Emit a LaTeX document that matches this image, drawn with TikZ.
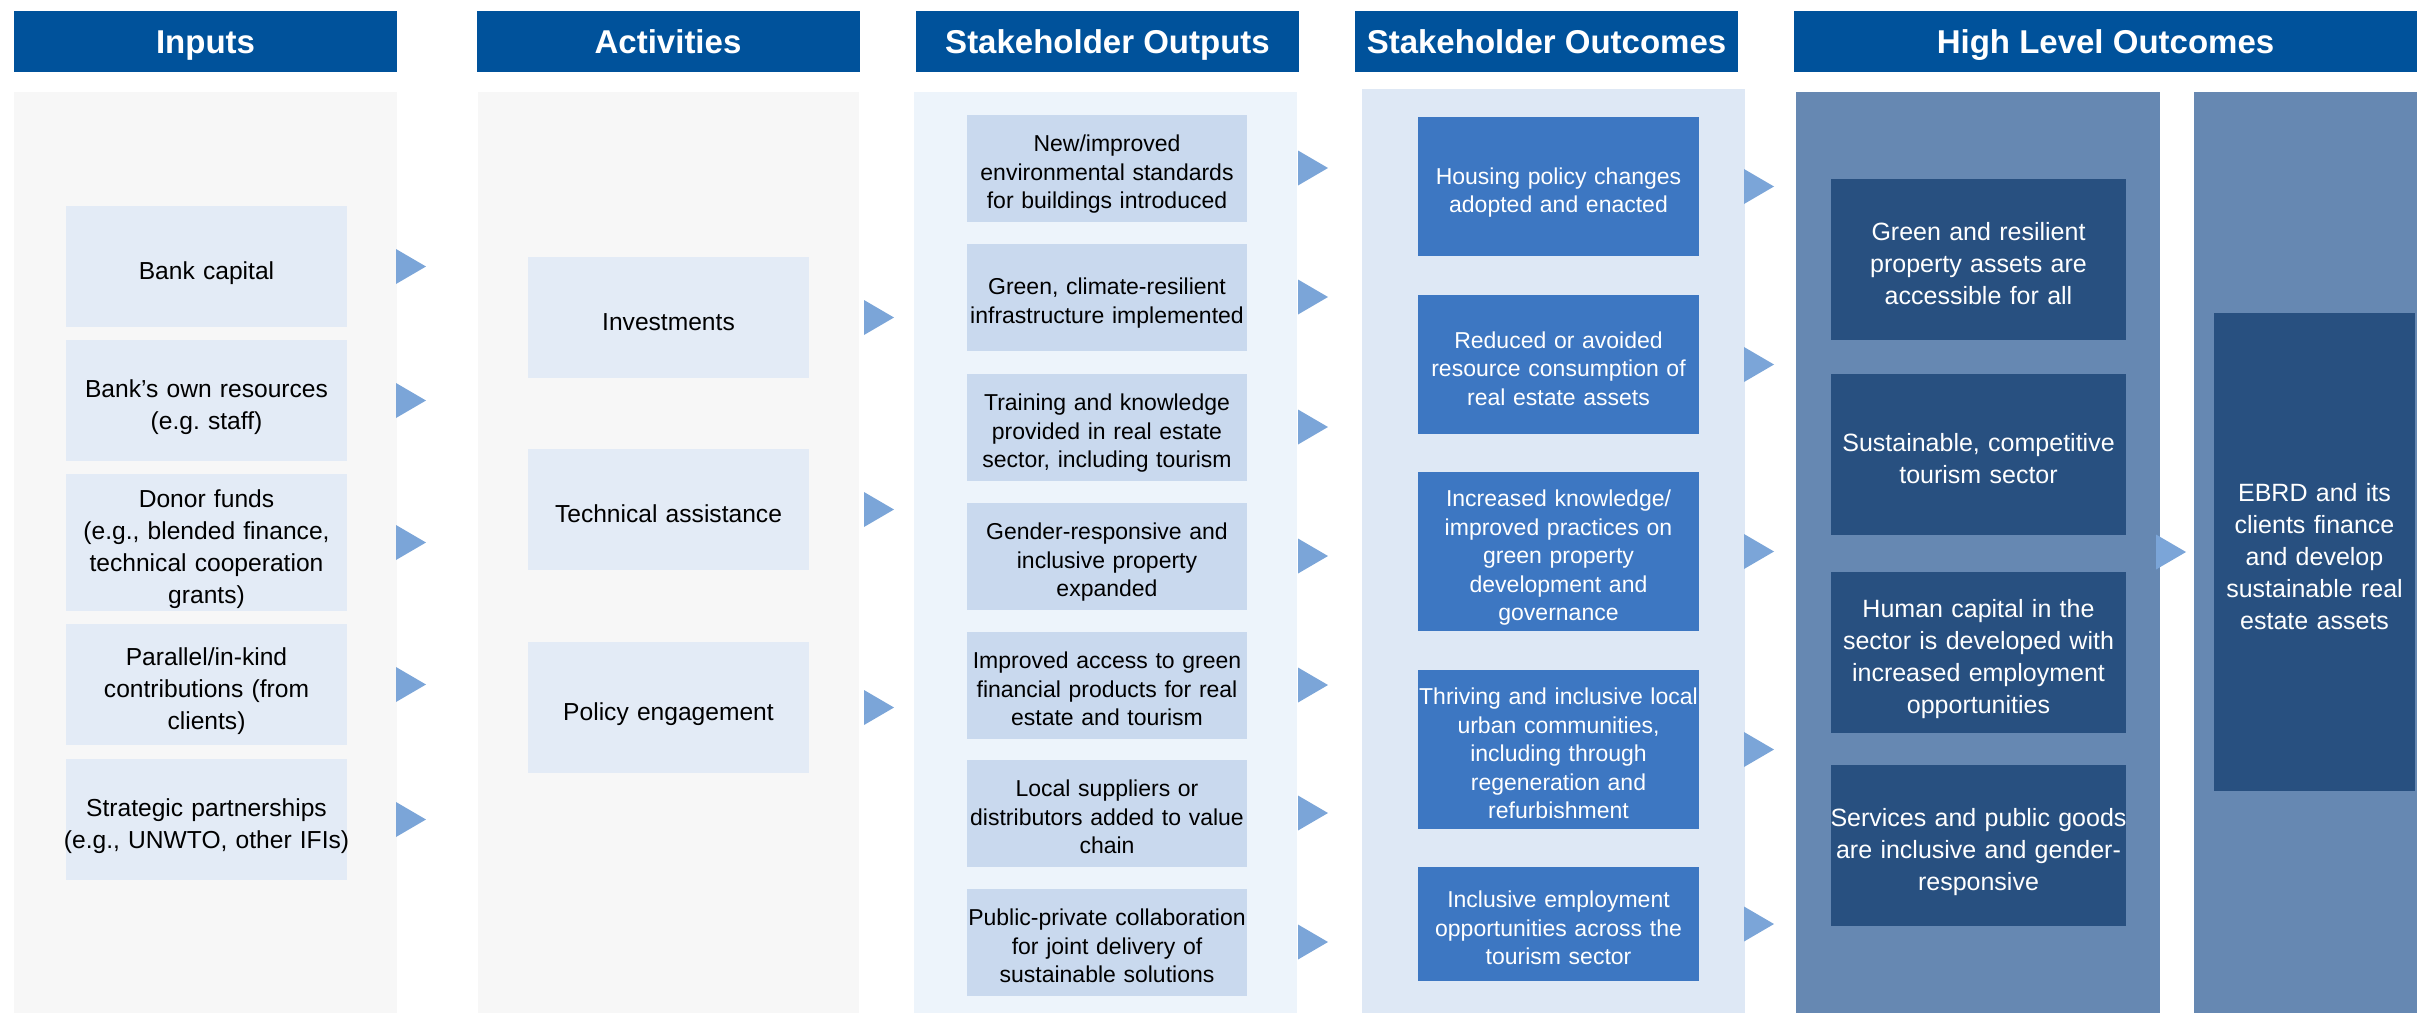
\documentclass[tikz,border=0pt]{standalone}
\usepackage{fontspec}
\setmainfont{Liberation Sans}
\frenchspacing

% 颜色
\definecolor{headblue}{RGB}{0,82,155}
\definecolor{graybg}{RGB}{247,247,247}
\definecolor{inbox}{RGB}{227,235,246}
\definecolor{outbg}{RGB}{237,244,251}
\definecolor{outbox}{RGB}{201,217,238}
\definecolor{ocbg}{RGB}{222,232,245}
\definecolor{ocbox}{RGB}{61,119,194}
\definecolor{hlbg}{RGB}{102,136,178}
\definecolor{hlbox}{RGB}{40,80,128}
\definecolor{arrowblue}{RGB}{123,165,216}

% 三角形小箭头: #1 是左边的 x, #2 是对齐的节点
\newcommand{\jiantou}[2]{\fill[arrowblue] (#1,0 |- #2) ++(0,-17.5) -- ++(30,17.5) -- ++(-30,17.5) -- cycle;}

\begin{document}
\begin{tikzpicture}[x=1pt, y=-1pt,  % 一个单位就是一个像素, y 向下
  biaoti/.style={fill=headblue, text=white, inner sep=0pt, minimum width=383pt, minimum height=61pt,
    text height=23.6pt, text depth=0pt, font=\bfseries\fontsize{33}{40}\selectfont},
  % 首行撑高一点, 让文字稍微往下; inner xsep 为负, 文字可以比框宽一点点
  xiaokuang/.style={inner xsep=-10pt, inner ysep=0pt, align=center, text width=301pt, minimum width=281pt,
    font=\fontsize{23}{28.5}\selectfont,
    execute at begin node=\rule{0pt}{1.27em}, execute at end node=\rule[-0.22em]{0pt}{0.22em}},
  touru/.style={xiaokuang, fill=inbox, font=\fontsize{24.6}{32}\selectfont},
  chanchu/.style={xiaokuang, fill=outbox, text width=300pt, minimum width=280pt, minimum height=107pt},
  jieguo/.style={xiaokuang, fill=ocbox, text=white},
  gaoji/.style={xiaokuang, fill=hlbox, text=white, text width=315pt, minimum width=295pt, minimum height=161pt,
    font=\fontsize{25}{32}\selectfont}]

  % 整个画面的大小
  \useasboundingbox (0,0) rectangle (2417,1013);

  % 标题栏
  \node[biaoti] (hin) at (205.5,41.5) {Inputs};
  \node[biaoti] (hact) at (668,41.5) {Activities};
  \node[biaoti] (hout) at (1107.5,41.5) {Stakeholder Outputs};
  \node[biaoti] (hoc) at (1546.5,41.5) {Stakeholder Outcomes};
  \node[biaoti, minimum width=623pt] (hhl) at (2105.5,41.5) {High Level Outcomes};

  % 每一栏的底色
  \fill[graybg] (14,92) rectangle (397,1013);
  \fill[graybg] (478,92) rectangle (859,1013);
  \fill[outbg] (914,92) rectangle (1297,1013);
  \fill[ocbg] (1362,89) rectangle (1745,1013);
  \fill[hlbg] (1796,92) rectangle (2160,1013);
  \fill[hlbg] (2194,92) rectangle (2417,1013);

  % Inputs
  \node[touru, minimum height=121pt] (bank) at (206.5,266.5) {Bank capital};
  \node[touru, minimum height=121pt] (own) at (206.5,400.5) {Bank's own resources\\(e.g. staff)};
  \node[touru, minimum height=137pt] (donor) at (206.5,542.5) {Donor funds\\(e.g., blended finance,\\technical cooperation\\grants)};
  \node[touru, minimum height=121pt] (para) at (206.5,684.5) {Parallel/in-kind\\contributions (from\\clients)};
  \node[touru, minimum height=121pt] (stra) at (206.5,819.5) {Strategic partnerships\\(e.g., UNWTO, other IFIs)};

  % Activities
  \node[touru, minimum height=121pt] (inv) at (668.5,317.5) {Investments};
  \node[touru, minimum height=121pt] (tech) at (668.5,509.5) {Technical assistance};
  \node[touru, minimum height=131pt] (pol) at (668.5,707.5) {Policy engagement};

  % Stakeholder Outputs
  \node[chanchu] (o1) at (1107,168) {New/improved\\environmental standards\\for buildings introduced};
  \node[chanchu] (o2) at (1107,297) {Green, climate-resilient\\infrastructure implemented};
  \node[chanchu] (o3) at (1107,427) {Training and knowledge\\provided in real estate\\sector, including tourism};
  \node[chanchu] (o4) at (1107,556) {Gender-responsive and\\inclusive property\\expanded};
  \node[chanchu] (o5) at (1107,685) {Improved access to green\\financial products for real\\estate and tourism};
  \node[chanchu] (o6) at (1107,813) {Local suppliers or\\distributors added to value\\chain};
  \node[chanchu] (o7) at (1107,942) {Public-private collaboration\\for joint delivery of\\sustainable solutions};

  % Stakeholder Outcomes
  \node[jieguo, minimum height=139pt] (c1) at (1558.5,186.5) {Housing policy changes\\adopted and enacted};
  \node[jieguo, minimum height=139pt] (c2) at (1558.5,364.5) {Reduced or avoided\\resource consumption of\\real estate assets};
  \node[jieguo, minimum height=159pt] (c3) at (1558.5,551.5) {Increased knowledge/\\improved practices on\\green property\\development and\\governance};
  \node[jieguo, minimum height=159pt] (c4) at (1558.5,749.5) {Thriving and inclusive local\\urban communities,\\including through\\regeneration and\\refurbishment};
  \node[jieguo, minimum height=114pt] (c5) at (1558.5,924) {Inclusive employment\\opportunities across the\\tourism sector};

  % High Level Outcomes
  \node[gaoji] (g1) at (1978.5,259.5) {Green and resilient\\property assets are\\accessible for all};
  \node[gaoji] (g2) at (1978.5,454.5) {Sustainable, competitive\\tourism sector};
  \node[gaoji] (g3) at (1978.5,652) {Human capital in the\\sector is developed with\\increased employment\\opportunities};
  \node[gaoji] (g4) at (1978.5,845.5) {Services and public goods\\are inclusive and gender-\\responsive};
  \node[gaoji, text width=221pt, minimum width=201pt, minimum height=478pt] (ebrd) at (2314.5,552) {EBRD and its\\clients finance\\and develop\\sustainable real\\estate assets};

  % 三角箭头
  \jiantou{396}{bank} \jiantou{396}{own} \jiantou{396}{donor} \jiantou{396}{para} \jiantou{396}{stra}
  \jiantou{864}{inv} \jiantou{864}{tech} \jiantou{864}{pol}
  \jiantou{1298}{o1} \jiantou{1298}{o2} \jiantou{1298}{o3} \jiantou{1298}{o4}
  \jiantou{1298}{o5} \jiantou{1298}{o6} \jiantou{1298}{o7}
  \jiantou{1744}{c1} \jiantou{1744}{c2} \jiantou{1744}{c3} \jiantou{1744}{c4} \jiantou{1744}{c5}
  \jiantou{2156}{ebrd}

\end{tikzpicture}
\end{document}
